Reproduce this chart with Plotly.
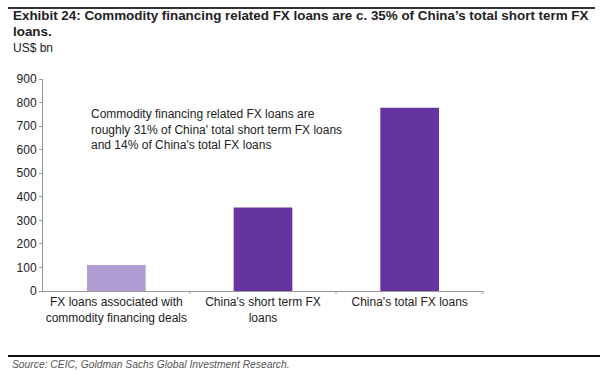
import plotly.graph_objects as go

categories = ["FX loans associated with<br>commodity financing deals",
              "China's short term FX<br>loans",
              "China's total FX loans"]
values = [110, 355, 778]
colors = ["#B19CD3", "#6634A0", "#6634A0"]
y_ticks = [0, 100, 200, 300, 400, 500, 600, 700, 800, 900]

W, H = 600, 378
L, R, T, B = 43, 117, 79, 87

fig = go.Figure(go.Bar(x=categories, y=values, marker=dict(color=colors, line=dict(width=0)),
                       width=0.4, hoverinfo="skip"))

font = "Liberation Sans, Arial, sans-serif"
fig.update_layout(
    width=W, height=H,
    margin=dict(l=L, r=R, t=T, b=B),
    paper_bgcolor="white", plot_bgcolor="white",
    showlegend=False,
    font=dict(family=font, size=12, color="#222"),
    xaxis=dict(showline=True, linecolor="#999", linewidth=1, ticks="", showgrid=False,
               tickfont=dict(size=12, color="#222")),
    yaxis=dict(range=[0, 900], tickvals=y_ticks, showline=True, linecolor="#999", linewidth=1,
               ticks="outside", ticklen=3, tickcolor="#999", showgrid=False, zeroline=False,
               tickfont=dict(size=12, color="#222")),
)

def px_x(x):
    return (x - L) / (W - L - R)

def px_y(y):
    return (H - B - y) / (H - T - B)

# category separator ticks on x-axis
for xp in [190, 336, 483]:
    fig.add_shape(type="line", xref="paper", yref="paper",
                  x0=px_x(xp), x1=px_x(xp), y0=px_y(291), y1=px_y(294),
                  line=dict(color="#999", width=1))

# top and bottom rules
fig.add_shape(type="rect", xref="paper", yref="paper", x0=px_x(8), x1=px_x(595),
              y0=px_y(7), y1=px_y(9), fillcolor="#333", line=dict(width=0), layer="above")
fig.add_shape(type="line", xref="paper", yref="paper", x0=px_x(8), x1=px_x(600),
              y0=px_y(356), y1=px_y(356), line=dict(color="#111", width=2))

fig.add_annotation(xref="paper", yref="paper", x=px_x(11), y=px_y(25), xanchor="left", yanchor="bottom",
                   align="left", showarrow=False,
                   text="<b>Exhibit 24: Commodity financing related FX loans are c. 35% of China\u2019s total short term FX</b>",
                   font=dict(family=font, size=13.4, color="#222"))
fig.add_annotation(xref="paper", yref="paper", x=px_x(11), y=px_y(41), xanchor="left", yanchor="bottom",
                   align="left", showarrow=False, text="<b>loans.</b>",
                   font=dict(family=font, size=13.4, color="#222"))
fig.add_annotation(xref="paper", yref="paper", x=px_x(11), y=px_y(57), xanchor="left", yanchor="bottom",
                   align="left", showarrow=False, text="US$ bn",
                   font=dict(family=font, size=12, color="#222"))

fig.add_annotation(xref="paper", yref="paper", x=px_x(89), y=px_y(105), xanchor="left", yanchor="top",
                   align="left", showarrow=False,
                   text="Commodity financing related FX loans are<br>roughly 31% of China' total short term FX loans<br>and 14% of China's total FX loans",
                   font=dict(family=font, size=12, color="#222"))

fig.add_annotation(xref="paper", yref="paper", x=px_x(10), y=px_y(364), xanchor="left", yanchor="middle",
                   align="left", showarrow=False,
                   text="<i>Source: CEIC, Goldman Sachs Global Investment Research.</i>",
                   font=dict(family=font, size=10.3, color="#555"))

fig.write_html("out.html", config={"displayModeBar": False},
               post_script="document.body.style.margin='0';document.body.style.overflow='hidden';")
